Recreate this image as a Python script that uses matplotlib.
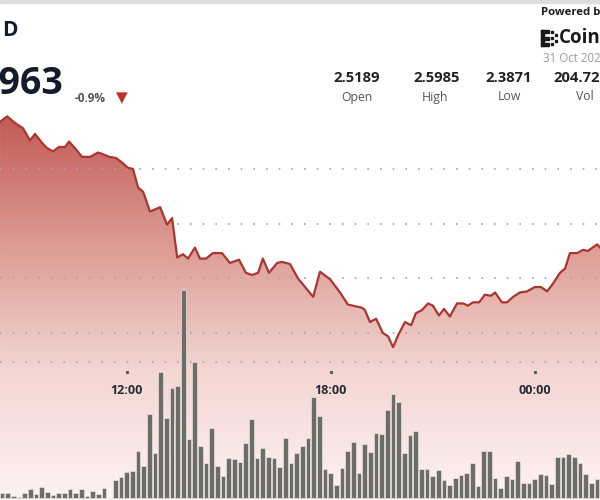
import numpy as np
import matplotlib
matplotlib.use("Agg")
import matplotlib.pyplot as plt
from matplotlib.colors import LinearSegmentedColormap
from matplotlib.patches import Rectangle
import matplotlib.transforms as mtrans

plt.rcParams['font.family'] = ['Open Sans', 'DejaVu Sans']

# price line (hours since midnight of 30 Oct, 24 = 00:00 next day)
price_hours = [8.28, 8.49, 8.72, 8.96, 9.16, 9.31, 9.51, 9.66, 9.84, 10.01,
               10.19, 10.31, 10.51, 10.69, 10.93, 11.16, 11.34, 11.49, 11.69, 11.90,
               12.04, 12.19, 12.34, 12.49, 12.69, 12.99, 13.19, 13.34, 13.49, 13.66,
               13.81, 14.01, 14.16, 14.34, 14.54, 14.81, 15.04, 15.31, 15.51, 15.69,
               15.87, 16.01, 16.19, 16.43, 16.57, 16.81, 17.04, 17.49, 17.69, 17.99,
               18.28, 18.51, 18.93, 19.01, 19.16, 19.34, 19.54, 19.69, 19.84, 19.99,
               20.19, 20.37, 20.51, 20.69, 20.87, 21.01, 21.19, 21.34, 21.51, 21.72,
               21.90, 22.04, 22.19, 22.37, 22.54, 22.72, 22.84, 23.04, 23.19, 23.37,
               23.57, 23.78, 24.01, 24.19, 24.37, 24.54, 24.75, 24.90, 25.04, 25.25,
               25.43, 25.57, 25.84, 26.00]
prices = [2.593, 2.598, 2.592, 2.587, 2.576, 2.582, 2.574, 2.569, 2.566, 2.570,
          2.570, 2.575, 2.568, 2.561, 2.561, 2.565, 2.563, 2.561, 2.560, 2.555,
          2.551, 2.550, 2.533, 2.529, 2.511, 2.515, 2.499, 2.505, 2.469, 2.472,
          2.468, 2.478, 2.468, 2.468, 2.473, 2.473, 2.464, 2.467, 2.455, 2.453,
          2.455, 2.468, 2.455, 2.464, 2.465, 2.463, 2.450, 2.433, 2.456, 2.449,
          2.437, 2.426, 2.423, 2.421, 2.410, 2.413, 2.400, 2.397, 2.387, 2.398,
          2.410, 2.407, 2.418, 2.421, 2.427, 2.425, 2.416, 2.422, 2.415, 2.427,
          2.427, 2.425, 2.428, 2.428, 2.435, 2.434, 2.437, 2.428, 2.428, 2.433,
          2.437, 2.438, 2.442, 2.442, 2.438, 2.445, 2.455, 2.459, 2.473, 2.473,
          2.476, 2.475, 2.481, 2.476]

# volume, 10 minute bars starting 08:20
vol_start = 8 + 20 / 60
volume = [0.47, 0.47, 0.20, 0.13, 0.53, 0.87, 0.40, 1.13, 0.63, 0.30,
          0.53, 0.47, 0.87, 0.47, 0.87, 0.20, 0.70, 0.40, 0.97, 0.05,
          1.80, 2.13, 2.57, 2.73, 4.73, 3.20, 8.40, 4.53, 12.63, 7.97,
          10.97, 11.20, 20.80, 5.87, 13.63, 5.20, 3.53, 7.03, 3.20, 2.20,
          3.97, 3.87, 3.63, 5.53, 7.87, 3.97, 5.03, 4.07, 3.97, 3.13,
          6.03, 3.47, 4.53, 5.20, 6.03, 10.13, 8.23, 2.90, 2.53, 1.30,
          2.97, 4.73, 5.60, 2.47, 5.40, 4.60, 6.53, 6.40, 8.80, 10.37,
          9.63, 4.47, 6.30, 6.73, 2.87, 2.87, 2.20, 2.80, 1.80, 1.30,
          1.97, 2.30, 2.53, 3.53, 1.20, 4.73, 4.70, 1.97, 0.97, 2.23,
          1.90, 3.70, 1.47, 1.47, 1.87, 2.37, 2.30, 1.37, 4.13, 4.13,
          4.37, 4.07, 3.53, 2.37, 1.47, 1.90, 1.70]
vol_hours = vol_start + np.arange(len(volume)) / 6

tick_hours = [12, 18, 24]
tick_labels = ["12:00", "18:00", "00:00"]
price_grid = [2.40, 2.45, 2.50, 2.55]
vol_grid = [13.6]

stat_values = ["2.5189", "2.5985", "2.3871", "204.72M"]
stat_names = ["Open", "High", "Low", "Vol"]

fig = plt.figure(figsize=(6, 5), dpi=100)
ax = fig.add_axes([0, 0, 1, 1])
ax.set_xlim(8.279, 25.926)
ax.set_ylim(2.2473, 2.7044)
ax.axis('off')

# gradient area under the price line
cmap = LinearSegmentedColormap.from_list('fill', ['#c15a54', '#dc9a93', '#f3d6d2', '#fdf3f2'])
grad = np.linspace(0, 1, 256).reshape(-1, 1)
im = ax.imshow(grad, cmap=cmap, aspect='auto', extent=[8.279, 25.926, 2.2473, 2.60],
               origin='upper', zorder=1)
poly = ax.fill_between(price_hours, prices, 2.2473, color='none', lw=0)
im.set_clip_path(poly.get_paths()[0], transform=ax.transData)
ax.set_ylim(2.2473, 2.7044)

for g in price_grid:
    ax.axhline(g, color='#a9a3a3', lw=1.2, ls=(0, (1, 6.6)), zorder=2)

ax.plot(price_hours, prices, color='#ad3531', lw=1.6, zorder=5, solid_joinstyle='round')

axv = ax.twinx()
axv.set_ylim(-0.2, 49.8)
axv.axis('off')
for g in vol_grid:
    axv.axhline(g, color='#a9a3a3', lw=1.2, ls=(0, (1, 6.6)), zorder=1)
axv.bar(vol_hours, volume, width=0.82 / 6, color='#6c6d67', edgecolor='#e9e2e0',
        linewidth=0.5, zorder=3)

# time ticks inside the chart
tb = mtrans.blended_transform_factory(ax.transData, ax.transAxes)
for h, lab in zip(tick_hours, tick_labels):
    ax.plot([h], [0.256], marker='s', ms=1.2, color='#555555', transform=tb, zorder=6)
    ax.text(h, 0.22, lab, transform=tb, ha='center', va='center', fontsize=9,
            fontweight='bold', color='#262b36', zorder=6)

# header texts
fig.patches.append(Rectangle((0, 0.994), 1, 0.006, transform=fig.transFigure,
                             color='#dedede', zorder=0))
fig.text(2 / 600, 1 - 31 / 500, "D", ha='left', va='center', fontsize=15,
         fontweight='bold', color='#141b2b')
fig.text(63 / 600, 1 - 84 / 500, "2.4963", ha='right', va='center', fontsize=27,
         fontweight='bold', color='#141b2b')
fig.text(75 / 600, 1 - 98 / 500, "-0.9%", ha='left', va='center', fontsize=8.5,
         fontweight='bold', color='#555555')
fig.text(122 / 600, 1 - 98 / 500, "▼", ha='center', va='center', fontsize=11,
         color='#c0302b', family=['DejaVu Sans'])

fig.text(541 / 600, 1 - 13 / 500, "Powered by", ha='left', va='center', fontsize=8.2,
         fontweight='bold', color='#1f1f1f')
# logo mark
for (x0, y0, w, h) in [(541, 30, 3, 16), (541, 30, 8, 3), (541, 36.5, 8, 3),
                       (541, 43, 8, 3), (551, 31, 2, 2), (551, 37, 2, 2), (551, 43, 2, 2),
                       (555, 34, 2, 2), (555, 40, 2, 2)]:
    fig.patches.append(Rectangle((x0 / 600, 1 - (y0 + h) / 500), w / 600, h / 500,
                                 transform=fig.transFigure, color='#1a1a1a'))
fig.text(559 / 600, 1 - 38 / 500, "CoinDesk", ha='left', va='center', fontsize=13.5,
         fontweight='bold', color='#1a1a1a')
fig.text(543 / 600, 1 - 59 / 500, "31 Oct 2025", ha='left', va='center', fontsize=8.3,
         color='#9a9a9a')

stat_x = [357, 437, 509, 553]
stat_ha = ['center', 'center', 'center', 'left']
for x, ha, v in zip(stat_x, stat_ha, stat_values):
    fig.text(x / 600, 1 - 78 / 500, v, ha=ha, va='center', fontsize=10.6,
             fontweight='bold', color='#222222')
for x, n in zip([357, 435, 509, 585], stat_names):
    fig.text(x / 600, 1 - 97 / 500, n, ha='center', va='center', fontsize=8.8,
             color='#555555')

fig.savefig("out.png", dpi=100, facecolor='white')
